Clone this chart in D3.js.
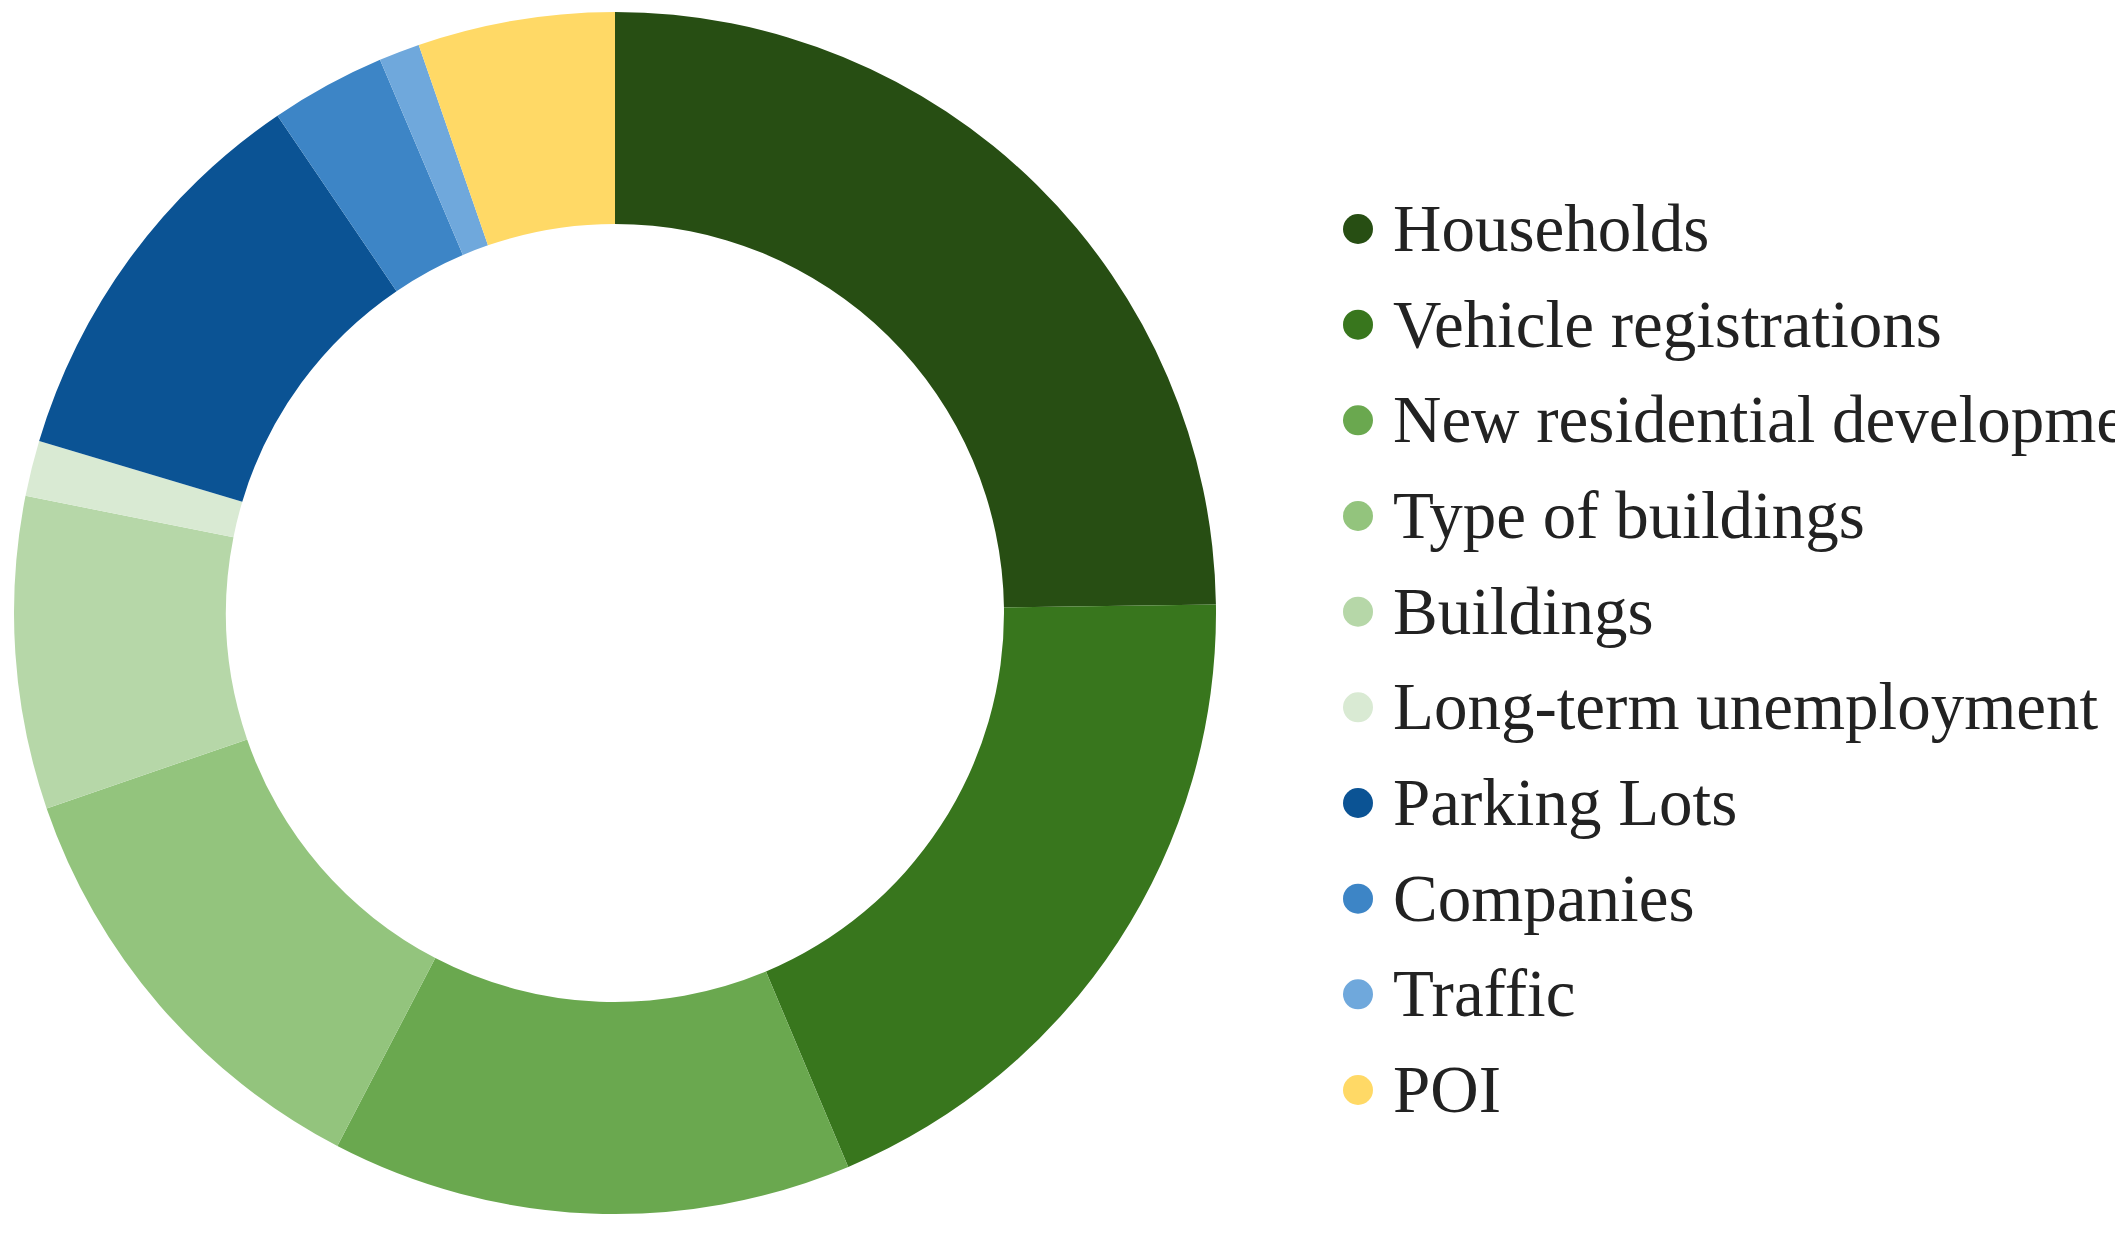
<!DOCTYPE html>
<html>
<head>
<meta charset="utf-8">
<script src="https://cdn.jsdelivr.net/npm/d3@7"></script>
<style>
  html, body { margin: 0; padding: 0; background: #fff; overflow: hidden; }
</style>
</head>
<body>
<div id="chart"></div>
<script>
// Share of each data source (percent)
const categories = [
    "Households",
    "Vehicle registrations",
    "New residential developments",
    "Type of buildings",
    "Buildings",
    "Long-term unemployment",
    "Parking Lots",
    "Companies",
    "Traffic",
    "POI"
];
const values = [24.8, 18.9, 14.0, 12.1, 8.4, 1.5, 10.9, 3.1, 1.1, 5.3];
const colors = [
    "#274e13", "#38761d", "#6aa84f", "#93c47d", "#b6d7a8",
    "#d9ead3", "#0b5394", "#3d85c6", "#6fa8dc", "#ffd966"
];

document.addEventListener("DOMContentLoaded", () => {
    const svgWidth = 2115;
    const svgHeight = 1237;

    const svg = d3.select("#chart")
        .append("svg")
        .attr("width", svgWidth)
        .attr("height", svgHeight)
        .style("display", "block");

    const cx = 615, cy = 613;
    const outerR = 601, innerR = 389;

    const data = categories.map((c, i) => ({ name: c, value: values[i], color: colors[i] }));

    const pie = d3.pie()
        .value(d => d.value)
        .sort(null);

    const arc = d3.arc()
        .innerRadius(innerR)
        .outerRadius(outerR);

    const pieGroup = svg.append("g")
        .attr("transform", `translate(${cx},${cy})`);

    pieGroup.selectAll("path")
        .data(pie(data))
        .enter()
        .append("path")
        .attr("d", arc)
        .attr("fill", d => d.data.color);

    // Legend
    const legendY = d3.scalePoint()
        .domain(categories)
        .range([229, 1090]);

    const legend = svg.append("g");

    const items = legend.selectAll("g")
        .data(data)
        .enter()
        .append("g")
        .attr("transform", d => `translate(1358,${legendY(d.name)})`);

    items.append("circle")
        .attr("r", 15)
        .attr("fill", d => d.color);

    items.append("text")
        .attr("x", 35)
        .attr("y", 22)
        .attr("font-family", "'Liberation Serif', serif")
        .attr("font-size", 67)
        .attr("fill", "#222")
        .text(d => d.name);
});
</script>
</body>
</html>
